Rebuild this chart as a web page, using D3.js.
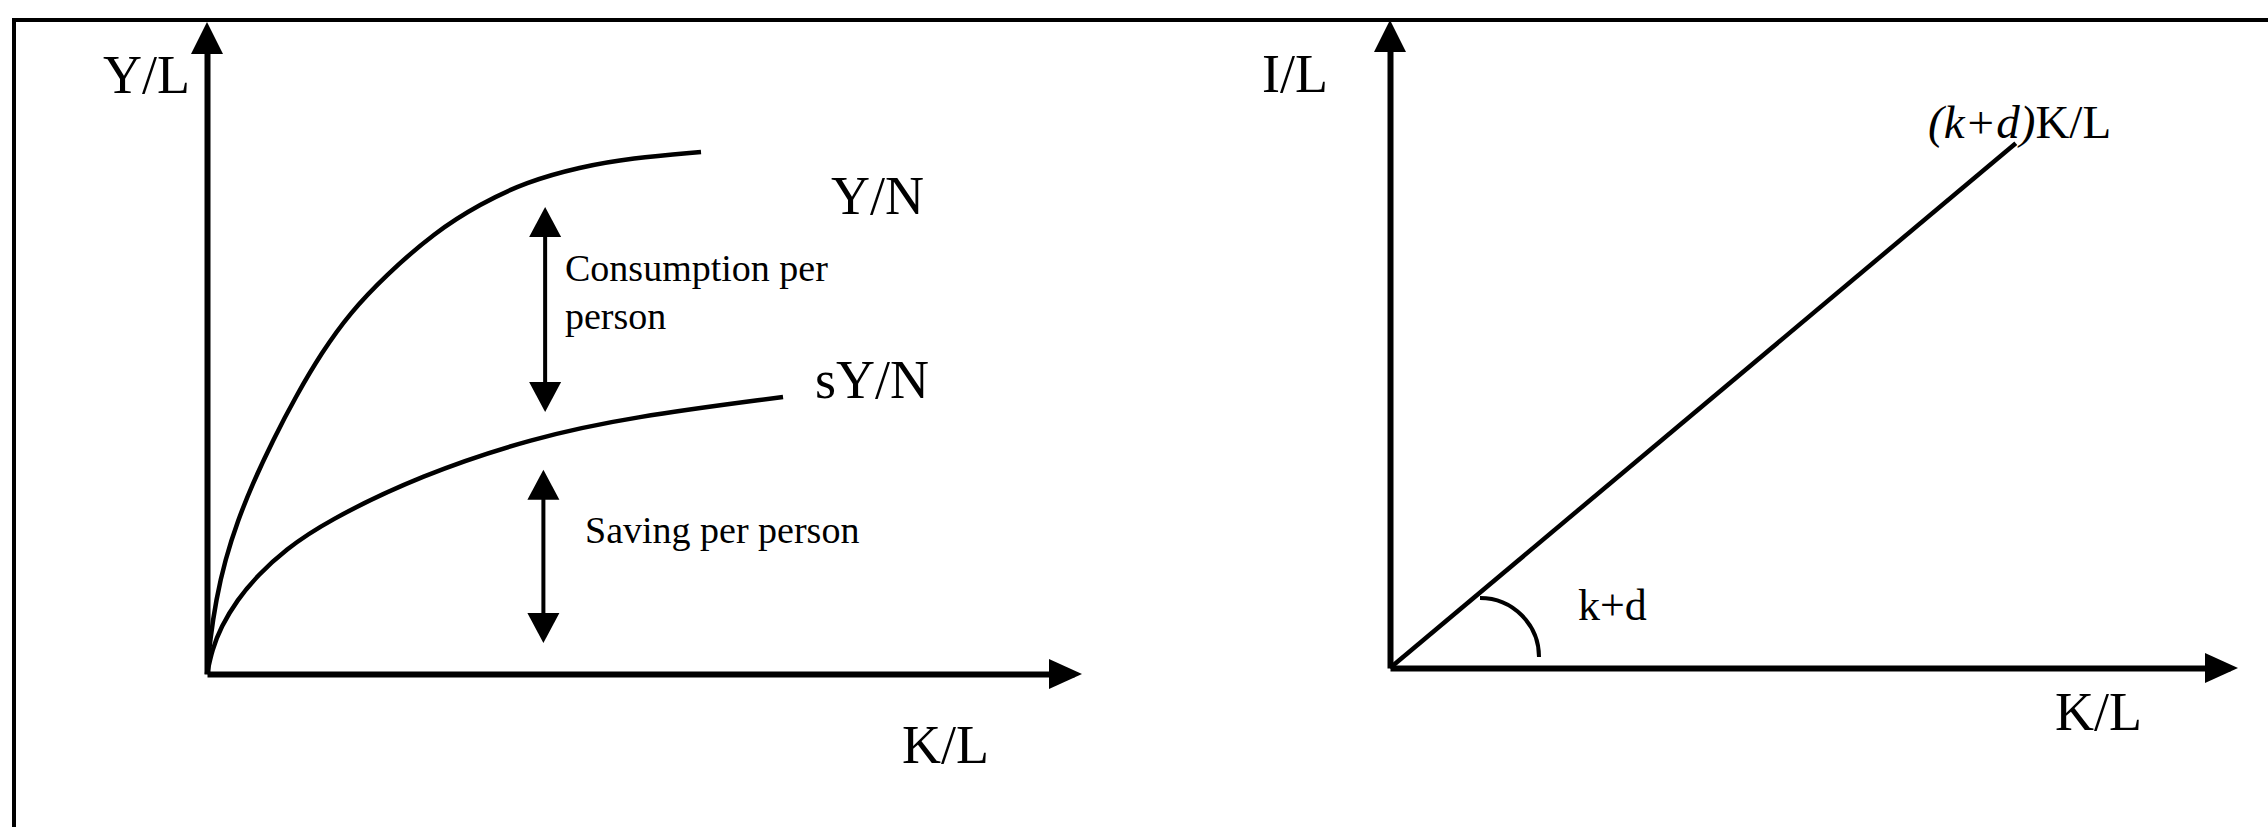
<!DOCTYPE html>
<html lang="en">
<head>
<meta charset="UTF-8">
<title>Output, saving and investment per person</title>
<script src="https://cdn.jsdelivr.net/npm/d3@7"></script>
<style>
  body { margin: 0; background: #fff; }
  svg text { font-family: "Liberation Serif", "Times New Roman", serif; fill: #000; }
  .axis path.domain { stroke: #000; stroke-width: 6; }
</style>
</head>
<body>
<div id="chart"></div>
<script>
// left panel, values (0-100 units on both axes)
const outputK = [0, 0.35, 1.04, 2.08, 3.58, 5.19, 7.61, 10.27, 13.26, 16.49, 20.53, 26.3, 31.49, 36.79, 43.02, 48.9, 56.98];
const outputY = [0, 5.28, 11.49, 17.7, 23.91, 29.35, 36.34, 43.17, 50.0, 56.06, 61.8, 68.63, 72.98, 76.4, 78.73, 80.12, 81.06];
const savingK = [0, 0.58, 1.61, 3.46, 5.88, 9.0, 13.61, 24.68, 37.6, 48.9, 66.44];
const savingY = [0, 3.73, 7.3, 11.49, 15.37, 19.25, 23.6, 30.9, 36.65, 39.91, 43.01];

// double headed arrows: consumption gap, saving
const gapK = [39.0, 38.8];
const gapTop = [72.5, 31.7];
const gapBottom = [40.7, 4.8];

// right panel: investment needed, (k+d)K/L
const investK = [0, 74.5];
const investY = [0, 82.0];

const W = 2268, H = 827;

const svg = d3.select("#chart").append("svg")
  .attr("width", W).attr("height", H);

// frame (the top of the page is cut off in the original)
svg.append("line").attr("x1", 14).attr("x2", W).attr("y1", 20).attr("y2", 20)
  .attr("stroke", "#000").attr("stroke-width", 4);
svg.append("line").attr("x1", 14).attr("x2", 14).attr("y1", 18).attr("y2", H)
  .attr("stroke", "#000").attr("stroke-width", 4);

function head(g, x, y, dir, len, half) {
  // dir: "up", "down", "right"
  let pts;
  if (dir == "up") pts = [[x, y], [x - half, y + len], [x + half, y + len]];
  else if (dir == "down") pts = [[x, y], [x - half, y - len], [x + half, y - len]];
  else pts = [[x, y], [x - len, y - half], [x - len, y + half]];
  g.append("path").attr("d", "M" + pts.join("L") + "Z").attr("fill", "#000");
}

function drawAxes(g, x, y) {
  g.append("g").attr("class", "axis")
    .attr("transform", "translate(0," + y(0) + ")")
    .call(d3.axisBottom(x).tickValues([]).tickSizeOuter(0));
  g.append("g").attr("class", "axis")
    .attr("transform", "translate(" + x(0) + ",0)")
    .call(d3.axisLeft(y).tickValues([]).tickSizeOuter(0));
  head(g, x(100) + 8, y(0), "right", 33, 15);
  head(g, x(0), y(100) - 8, "up", 32, 16);
}

// ---- left panel ----
const xL = d3.scaleLinear().domain([0, 100]).range([207, 1074]);
const yL = d3.scaleLinear().domain([0, 100]).range([674, 30]);
const left = svg.append("g");
drawAxes(left, xL, yL);

const curve = d3.line()
  .x(d => xL(d[0])).y(d => yL(d[1]))
  .curve(d3.curveBasis);

left.append("path")
  .attr("d", curve(d3.zip(outputK, outputY)))
  .attr("fill", "none").attr("stroke", "#000").attr("stroke-width", 4.5);
left.append("path")
  .attr("d", curve(d3.zip(savingK, savingY)))
  .attr("fill", "none").attr("stroke", "#000").attr("stroke-width", 4.5);

gapK.forEach((k, i) => {
  const xp = xL(k), t = yL(gapTop[i]), b = yL(gapBottom[i]);
  left.append("line").attr("x1", xp).attr("x2", xp)
    .attr("y1", t + 20).attr("y2", b - 20)
    .attr("stroke", "#000").attr("stroke-width", 4);
  head(left, xp, t, "up", 30, 16);
  head(left, xp, b, "down", 30, 16);
});

left.append("text").attr("x", 103).attr("y", 93).attr("font-size", 54).text("Y/L");
left.append("text").attr("x", 902).attr("y", 763).attr("font-size", 54).text("K/L");
left.append("text").attr("x", 831).attr("y", 214).attr("font-size", 54).text("Y/N");
left.append("text").attr("x", 815).attr("y", 398).attr("font-size", 54).text("sY/N");
left.append("text").attr("x", 565).attr("y", 281).attr("font-size", 38).text("Consumption per");
left.append("text").attr("x", 565).attr("y", 329).attr("font-size", 38).text("person");
left.append("text").attr("x", 585).attr("y", 543).attr("font-size", 38).text("Saving per person");

// ---- right panel ----
const xR = d3.scaleLinear().domain([0, 100]).range([1390, 2230]);
const yR = d3.scaleLinear().domain([0, 100]).range([668, 28]);
const right = svg.append("g");
drawAxes(right, xR, yR);

right.append("path")
  .attr("d", d3.line().x(d => xR(d[0])).y(d => yR(d[1]))(d3.zip(investK, investY)))
  .attr("fill", "none").attr("stroke", "#000").attr("stroke-width", 4.5);

// angle mark for the slope k+d
const arc = d3.path();
const cx = 1480, cy = 657, r = 59;
arc.moveTo(cx, cy - r);
arc.arc(cx, cy, r, -Math.PI / 2, 0);
right.append("path").attr("d", arc.toString())
  .attr("fill", "none").attr("stroke", "#000").attr("stroke-width", 4);

right.append("text").attr("x", 1262).attr("y", 92).attr("font-size", 54).text("I/L");
right.append("text").attr("x", 2055).attr("y", 730).attr("font-size", 54).text("K/L");
right.append("text").attr("x", 1578).attr("y", 620).attr("font-size", 44).text("k+d");

const lab = right.append("text").attr("x", 1928).attr("y", 138).attr("font-size", 47);
lab.append("tspan").attr("font-style", "italic").text("(k+d)");
lab.append("tspan").text("K/L");
</script>
</body>
</html>
